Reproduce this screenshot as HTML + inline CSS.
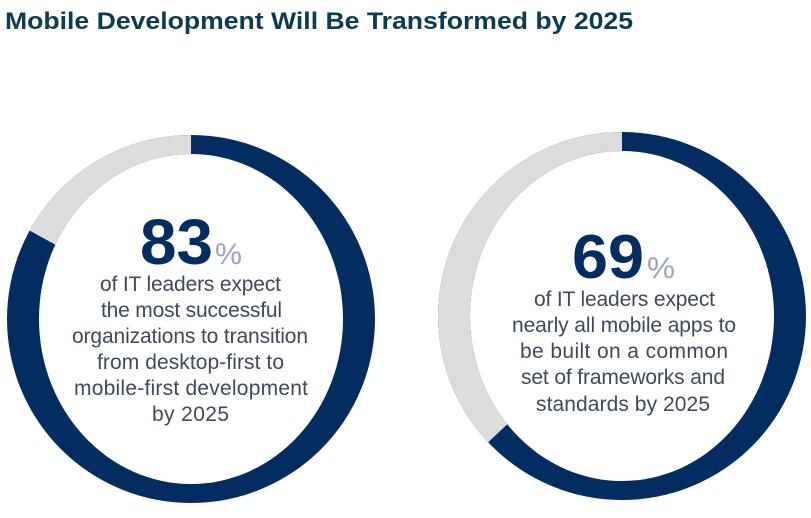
<!DOCTYPE html>
<html><head><meta charset="utf-8"><style>
html,body{margin:0;padding:0;background:#fff;width:811px;height:518px;overflow:hidden}
</style></head><body>
<svg width="811" height="518" viewBox="0 0 811 518" xmlns="http://www.w3.org/2000/svg" font-family="Liberation Sans, sans-serif">
<defs>
<clipPath id="r1"><path clip-rule="evenodd" d="M7,319 a184,184 0 1,0 368,0 a184,184 0 1,0 -368,0 Z M39,319 a152,165 0 1,0 304,0 a152,165 0 1,0 -304,0 Z"/></clipPath>
<clipPath id="r2"><path clip-rule="evenodd" d="M438,316 a184,184 0 1,0 368,0 a184,184 0 1,0 -368,0 Z M470,316 a152,165 0 1,0 304,0 a152,165 0 1,0 -304,0 Z"/></clipPath>
</defs>
<text x="5" y="29" font-size="24" font-weight="bold" fill="#0d3b52" textLength="628" lengthAdjust="spacingAndGlyphs">Mobile Development Will Be Transformed by 2025</text>

<g clip-path="url(#r1)">
  <rect x="0" y="120" width="400" height="400" fill="#032d60"/>
  <path d="M191,319 L191,100 L-8,210 Z" fill="#dcdcdc"/>
</g>
<g clip-path="url(#r2)">
  <rect x="430" y="120" width="381" height="400" fill="#032d60"/>
  <path d="M622,316 L622,100 L400,100 L400,450 L480,450 Z" fill="#dcdcdc"/>
</g>

<text x="140" y="264" font-size="64" font-weight="bold" fill="#032d60" textLength="73" lengthAdjust="spacingAndGlyphs">83</text>
<text x="215" y="264" font-size="30" fill="#9aa3b8" textLength="27" lengthAdjust="spacingAndGlyphs">%</text>
<g font-size="21" fill="#3e4a5a" lengthAdjust="spacingAndGlyphs">
<text x="100" y="291" textLength="181">of IT leaders expect</text>
<text x="101" y="317" textLength="181">the most successful</text>
<text x="72" y="343" textLength="236">organizations to transition</text>
<text x="97" y="369" textLength="187">from desktop-first to</text>
<text x="74" y="395" textLength="234">mobile-first development</text>
<text x="152" y="421" textLength="77">by 2025</text>
</g>

<text x="572" y="278" font-size="62" font-weight="bold" fill="#032d60" textLength="72" lengthAdjust="spacingAndGlyphs">69</text>
<text x="647" y="278" font-size="30" fill="#9aa3b8" textLength="28" lengthAdjust="spacingAndGlyphs">%</text>
<g font-size="21" fill="#3e4a5a" lengthAdjust="spacingAndGlyphs">
<text x="534" y="306" textLength="181">of IT leaders expect</text>
<text x="512" y="332" textLength="224">nearly all mobile apps to</text>
<text x="520" y="358" textLength="208">be built on a common</text>
<text x="521" y="384" textLength="204">set of frameworks and</text>
<text x="536" y="411" textLength="174">standards by 2025</text>
</g>
</svg>
</body></html>
